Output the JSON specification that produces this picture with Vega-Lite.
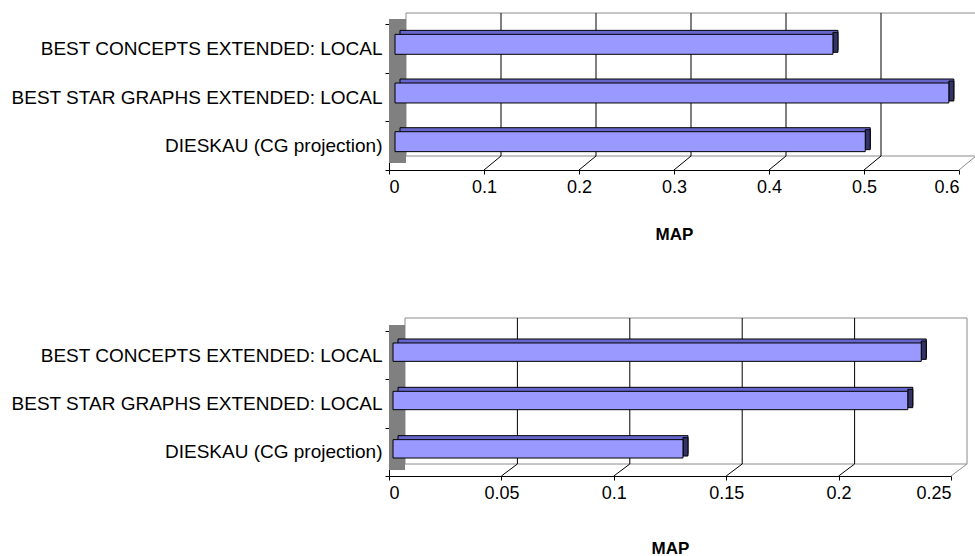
{
  "$schema": "https://vega.github.io/schema/vega-lite/v6.json",
  "padding": {"left": 10, "top": 12, "right": 0, "bottom": 0},
  "background": "white",
  "spacing": 75,
  "config": {
    "view": {"stroke": null},
    "font": "Liberation Sans",
    "axis": {
      "domainColor": "black", "tickColor": "black", "tickSize": 4, "labelColor": "black",
      "titleColor": "black", "zindex": 1, "grid": false
    }
  },
  "datasets": {
    "top": [
      {"method": "BEST CONCEPTS EXTENDED: LOCAL", "map": 0.461},
      {"method": "BEST STAR GRAPHS EXTENDED: LOCAL", "map": 0.583},
      {"method": "DIESKAU (CG projection)", "map": 0.495}
    ],
    "bottom": [
      {"method": "BEST CONCEPTS EXTENDED: LOCAL", "map": 0.235},
      {"method": "BEST STAR GRAPHS EXTENDED: LOCAL", "map": 0.229},
      {"method": "DIESKAU (CG projection)", "map": 0.129}
    ],
    "topTicks": [{"t": 0.1}, {"t": 0.2}, {"t": 0.3}, {"t": 0.4}, {"t": 0.5}, {"t": 0.6}],
    "bottomTicks": [{"t": 0.05}, {"t": 0.1}, {"t": 0.15}, {"t": 0.2}, {"t": 0.25}],
    "walls": [{"part": "wall"}]
  },
  "vconcat": [
    {
      "width": 570,
      "height": 146,
      "layer": [
        {
          "data": {"name": "walls"},
          "mark": {"type": "rect", "fill": "white", "stroke": "#8c8c8c", "strokeWidth": 1, "xOffset": 17, "x2Offset": 17, "yOffset": -11, "y2Offset": -14},
          "encoding": {
            "x": {"datum": 0, "type": "quantitative",
                  "scale": {"domain": [0, 0.6], "nice": false},
                  "axis": {"values": [0, 0.1, 0.2, 0.3, 0.4, 0.5, 0.6], "labelExpr": "'' + datum.value", "labelFontSize": 18, "labelPadding": 4, "title": "MAP", "titleFontSize": 17, "titleFontWeight": "bold", "titlePadding": 30}},
            "x2": {"datum": 0.6},
            "y": {"value": 0},
            "y2": {"value": "height"}
          }
        },
        {
          "data": {"name": "walls"},
          "mark": {"type": "rect", "fill": "#808080", "x2Offset": 17, "yOffset": -5, "y2Offset": -7},
          "encoding": {
            "x": {"datum": 0, "type": "quantitative"},
            "x2": {"datum": 0},
            "y": {"value": 0},
            "y2": {"value": "height"}
          }
        },
        {
          "data": {"name": "topTicks"},
          "transform": [{"filter": "datum.t < 0.59"}],
          "mark": {"type": "rule", "color": "black", "strokeWidth": 1, "xOffset": 17, "yOffset": -11, "y2Offset": -14},
          "encoding": {
            "x": {"field": "t", "type": "quantitative"},
            "y": {"value": 0},
            "y2": {"value": "height"}
          }
        },
        {
          "data": {"name": "topTicks"},
          "mark": {"type": "rule", "strokeWidth": 1, "x2Offset": 17, "y2Offset": -14},
          "encoding": {
            "x": {"field": "t", "type": "quantitative"},
            "x2": {"field": "t"},
            "y": {"value": "height"},
            "y2": {"value": "height"},
            "color": {"condition": {"test": "datum.t > 0.59", "value": "#8c8c8c"}, "value": "black"}
          }
        },
        {
          "data": {"name": "top"},
          "mark": {"type": "bar", "fill": "#6666cc", "stroke": "black", "strokeWidth": 1, "height": {"band": 0.41}, "xOffset": 11, "x2Offset": 11, "yOffset": -8},
          "encoding": {
            "x": {"field": "map", "type": "quantitative"},
            "y": {"field": "method", "type": "nominal", "sort": null,
                  "scale": {"paddingInner": 0, "paddingOuter": 0},
                  "axis": {"title": null, "labelFontSize": 19, "labelPadding": 3, "tickBand": "extent", "labelLimit": 0}}
          }
        },
        {
          "data": {"name": "top"},
          "mark": {"type": "bar", "fill": "#333366", "stroke": "black", "strokeWidth": 1, "height": {"band": 0.41}, "xOffset": 6, "x2Offset": 11, "yOffset": -6},
          "encoding": {
            "x": {"field": "map", "type": "quantitative"},
            "x2": {"field": "map"},
            "y": {"field": "method", "type": "nominal", "sort": null}
          }
        },
        {
          "data": {"name": "top"},
          "mark": {"type": "bar", "fill": "#9999ff", "stroke": "black", "strokeWidth": 1, "height": {"band": 0.41}, "xOffset": 6, "x2Offset": 6, "yOffset": -4},
          "encoding": {
            "x": {"field": "map", "type": "quantitative"},
            "y": {"field": "method", "type": "nominal", "sort": null}
          }
        }
      ]
    },
    {
      "width": 562,
      "height": 145,
      "layer": [
        {
          "data": {"name": "walls"},
          "mark": {"type": "rect", "fill": "white", "stroke": "#8c8c8c", "strokeWidth": 1, "xOffset": 16, "x2Offset": 16, "yOffset": -13, "y2Offset": -12},
          "encoding": {
            "x": {"datum": 0, "type": "quantitative",
                  "scale": {"domain": [0, 0.25], "nice": false},
                  "axis": {"values": [0, 0.05, 0.1, 0.15, 0.2, 0.25], "labelExpr": "'' + datum.value", "labelFontSize": 18, "labelPadding": 4, "title": "MAP", "titleFontSize": 17, "titleFontWeight": "bold", "titlePadding": 38}},
            "x2": {"datum": 0.25},
            "y": {"value": 0},
            "y2": {"value": "height"}
          }
        },
        {
          "data": {"name": "walls"},
          "mark": {"type": "rect", "fill": "#808080", "x2Offset": 16, "yOffset": -6, "y2Offset": -6},
          "encoding": {
            "x": {"datum": 0, "type": "quantitative"},
            "x2": {"datum": 0},
            "y": {"value": 0},
            "y2": {"value": "height"}
          }
        },
        {
          "data": {"name": "bottomTicks"},
          "transform": [{"filter": "datum.t < 0.249"}],
          "mark": {"type": "rule", "color": "black", "strokeWidth": 1, "xOffset": 16, "yOffset": -13, "y2Offset": -12},
          "encoding": {
            "x": {"field": "t", "type": "quantitative"},
            "y": {"value": 0},
            "y2": {"value": "height"}
          }
        },
        {
          "data": {"name": "bottomTicks"},
          "mark": {"type": "rule", "strokeWidth": 1, "x2Offset": 16, "y2Offset": -12},
          "encoding": {
            "x": {"field": "t", "type": "quantitative"},
            "x2": {"field": "t"},
            "y": {"value": "height"},
            "y2": {"value": "height"},
            "color": {"condition": {"test": "datum.t > 0.249", "value": "#8c8c8c"}, "value": "black"}
          }
        },
        {
          "data": {"name": "bottom"},
          "mark": {"type": "bar", "fill": "#6666cc", "stroke": "black", "strokeWidth": 1, "height": {"band": 0.38}, "xOffset": 9, "x2Offset": 9, "yOffset": -7},
          "encoding": {
            "x": {"field": "map", "type": "quantitative"},
            "y": {"field": "method", "type": "nominal", "sort": null,
                  "scale": {"paddingInner": 0, "paddingOuter": 0},
                  "axis": {"title": null, "labelFontSize": 19, "labelPadding": 3, "tickBand": "extent", "labelLimit": 0}}
          }
        },
        {
          "data": {"name": "bottom"},
          "mark": {"type": "bar", "fill": "#333366", "stroke": "black", "strokeWidth": 1, "height": {"band": 0.38}, "xOffset": 4, "x2Offset": 9, "yOffset": -5},
          "encoding": {
            "x": {"field": "map", "type": "quantitative"},
            "x2": {"field": "map"},
            "y": {"field": "method", "type": "nominal", "sort": null}
          }
        },
        {
          "data": {"name": "bottom"},
          "mark": {"type": "bar", "fill": "#9999ff", "stroke": "black", "strokeWidth": 1, "height": {"band": 0.38}, "xOffset": 4, "x2Offset": 4, "yOffset": -3},
          "encoding": {
            "x": {"field": "map", "type": "quantitative"},
            "y": {"field": "method", "type": "nominal", "sort": null}
          }
        }
      ]
    }
  ]
}
